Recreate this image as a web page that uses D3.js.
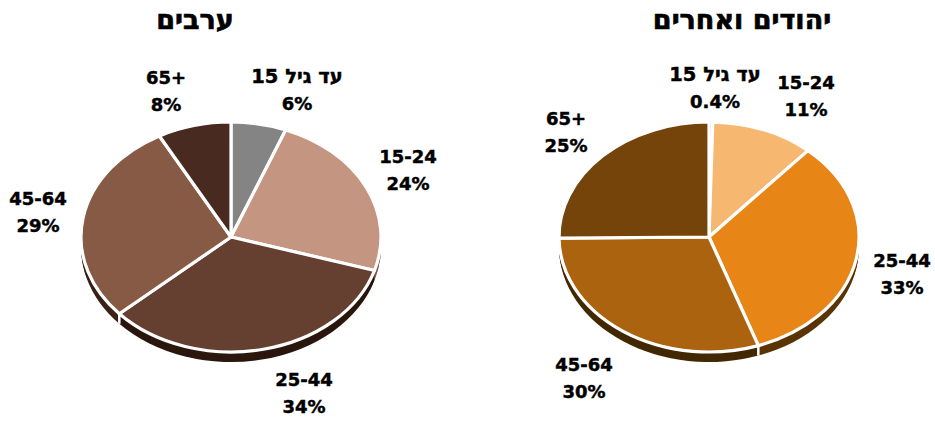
<!DOCTYPE html>
<html>
<head>
<meta charset="utf-8">
<script src="https://cdn.jsdelivr.net/npm/d3@7"></script>
<style>
html, body { margin: 0; padding: 0; background: #fff; }
svg { display: block; }
text { font-family: "DejaVu Sans", sans-serif; font-weight: bold; fill: #000; stroke: #000; stroke-width: 0.45px; }
</style>
</head>
<body>
<svg id="chart" width="935" height="421"></svg>
<script>
var ages = ["עד גיל 15", "15-24", "25-44", "45-64", "65+"];

var arabValues = [6, 24, 34, 29, 8];
var jewsValues = [0.4, 11, 33, 30, 25];

var arabColors = ["#848484", "#c49580", "#653f30", "#865a44", "#482a20"];
var jewsColors = ["#848484", "#f6b870", "#e78516", "#ab6310", "#74440b"];

var arabSide = ["#555555", "#7a5a4c", "#2b170e", "#3a2217", "#2b170e"];
var jewsSide = ["#555555", "#a87a40", "#5b3505", "#432804", "#432804"];

// label centres, relative to the centre of each pie
var arabLabelPos = [[66, -160], [177, -80], [73, 143], [-193, -38], [-65, -159]];
var jewsLabelPos = [[6, -162], [97, -154], [193, 24], [-125, 128], [-143, -118]];

var rx = 150;
var ry = 115;
var depth = 10;

function draw_pie(svg, cx, cy, title, titleX, values, colors, sideColors, labelPos) {
    "use strict";

    var pie = d3.pie().sort(null).value(function (d) { return d; });
    var arc = d3.arc().innerRadius(0).outerRadius(rx);
    var slices = pie(values);

    var g = svg.append("g")
        .attr("transform", "translate(" + cx + "," + cy + ")");

    // side of the pie: same slices stacked downwards
    d3.range(depth, 2, -1).forEach(function (off) {
        g.append("g")
            .attr("transform", "translate(0," + off + ") scale(1," + (ry / rx) + ")")
            .selectAll("path")
            .data(slices)
            .enter()
            .append("path")
            .attr("d", arc)
            .attr("fill", function (d, i) { return sideColors[i]; });
    });

    // white break in the side where two front slices meet
    g.append("g")
        .selectAll("line")
        .data(slices.filter(function (d) {
            return Math.cos(d.endAngle) < 0 && Math.abs(Math.sin(d.endAngle)) < 0.8;
        }))
        .enter()
        .append("line")
        .attr("x1", function (d) { return rx * Math.sin(d.endAngle); })
        .attr("x2", function (d) { return rx * Math.sin(d.endAngle); })
        .attr("y1", function (d) { return -ry * Math.cos(d.endAngle); })
        .attr("y2", function (d) { return -ry * Math.cos(d.endAngle) + depth; })
        .attr("stroke", "#fff")
        .attr("stroke-width", 2.5);

    g.append("g")
        .attr("transform", "scale(1," + (ry / rx) + ")")
        .selectAll("path")
        .data(slices)
        .enter()
        .append("path")
        .attr("d", arc)
        .attr("fill", function (d, i) { return colors[i]; })
        .attr("stroke", "#fff")
        .attr("stroke-width", 3.2)
        .attr("stroke-linejoin", "round")
        .attr("vector-effect", "non-scaling-stroke");

    var labels = g.selectAll("g.label")
        .data(slices)
        .enter()
        .append("g")
        .attr("class", "label")
        .attr("transform", function (d, i) {
            return "translate(" + labelPos[i][0] + "," + labelPos[i][1] + ")";
        })
        .attr("font-size", "18px")
        .attr("text-anchor", "middle");

    labels.append("text")
        .attr("direction", function (d, i) { return i === 0 ? "rtl" : "ltr"; })
        .attr("font-size", function (d, i) { return i === 0 ? "19.5px" : null; })
        .attr("y", 6)
        .text(function (d, i) { return ages[i]; });

    labels.append("text")
        .attr("y", 33)
        .text(function (d) { return d.data + "%"; });

    svg.append("text")
        .attr("x", titleX)
        .attr("y", 29)
        .attr("direction", "rtl")
        .attr("text-anchor", "middle")
        .attr("font-size", "27px")
        .style("stroke-width", "0.7px")
        .text(title);
}

var svg = d3.select("#chart");
draw_pie(svg, 231, 237, "ערבים", 195, arabValues, arabColors, arabSide, arabLabelPos);
draw_pie(svg, 709, 237, "יהודים ואחרים", 742, jewsValues, jewsColors, jewsSide, jewsLabelPos);
</script>
</body>
</html>
